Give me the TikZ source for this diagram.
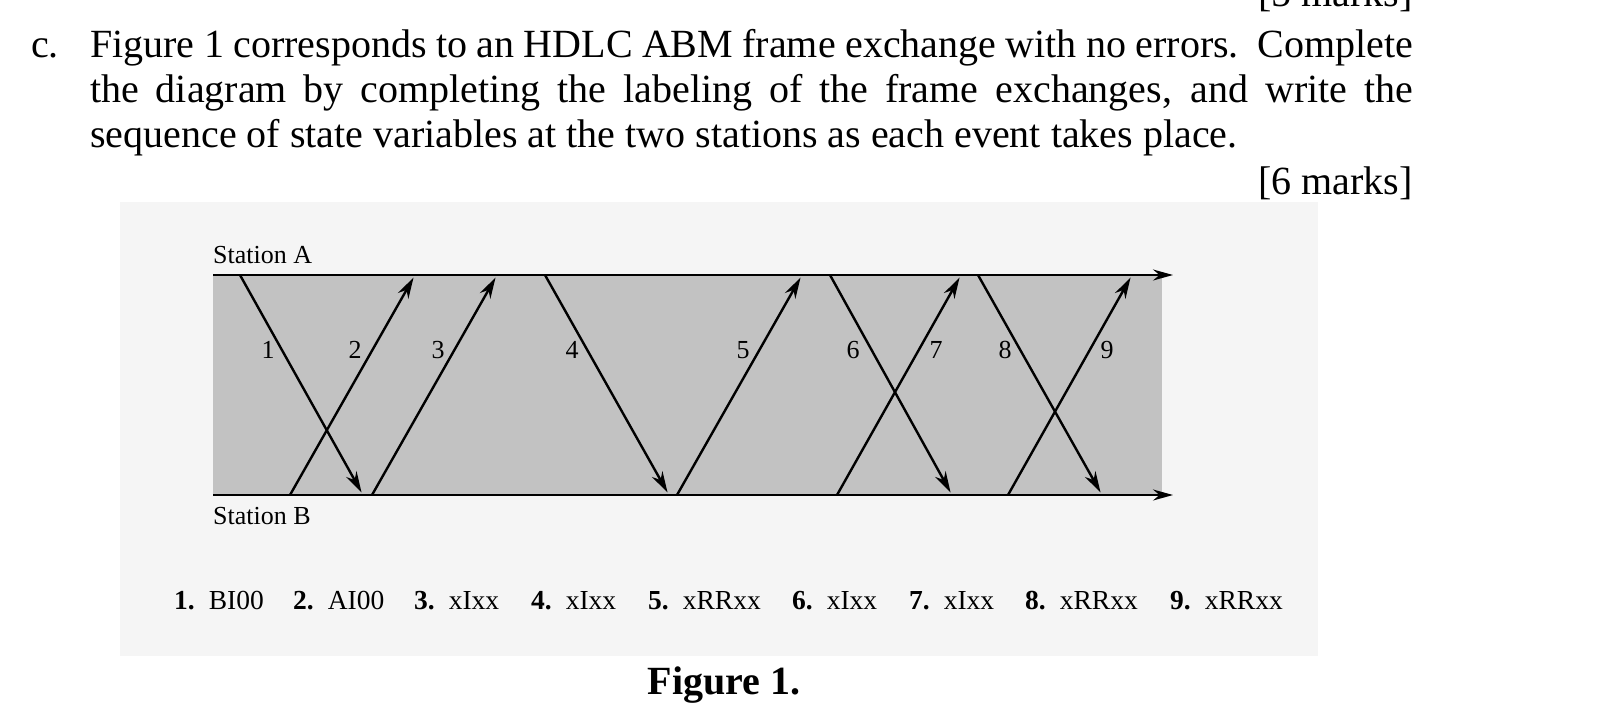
\documentclass[tikz,border=0pt]{standalone}
\usepackage{fontspec}
\setmainfont{Liberation Serif}
\usetikzlibrary{arrows.meta}

\begin{document}
\begin{tikzpicture}[x=1pt,y=-1pt,
  frame/.style={line width=2.4pt, -{Stealth[length=21pt,width=12pt]}, shorten >=3pt},
  station/.style={line width=2pt, -{Stealth[length=20pt,width=11pt]}},
  lbl/.style={inner sep=0pt, font=\fontsize{26}{30}\selectfont},
  item/.style={inner sep=0pt, anchor=base west, font=\fontsize{27.5}{30}\selectfont},
  body/.style={inner sep=0pt, anchor=base west, font=\fontsize{40}{46}\selectfont}]
\useasboundingbox [fill=white] (0,0) rectangle (1602,718);

% question
\node [body, anchor=base east] (mk5) at (1413,6) {[5 marks]};
\node [body] (qc) at (31,57) {c.};
\node [body] (q1) at (90,57) {\makebox[1323pt][s]{Figure 1 corresponds to an HDLC ABM frame exchange with no errors.\ \ Complete}};
\node [body] (q2) at (90,102) {\makebox[1323pt][s]{the diagram by completing the labeling of the frame exchanges, and write the}};
\node [body] (q3) at (90,147) {sequence of state variables at the two stations as each event takes place.};
\node [body, anchor=base east] (mk6) at (1413,194) {[6 marks]};

% scanned figure
\fill [black!4] (120,202) rectangle (1318,656);
\fill [black!24] (213,275) rectangle (1162,495);

\coordinate (sa) at (213,275);
\coordinate (sb) at (213,495);
\coordinate (ea) at (1173,275);
\coordinate (eb) at (1173,495);
\draw [station] (sa) -- (ea);
\draw [station] (sb) -- (eb);
\node [lbl, anchor=base west] (stA) at (213,263) {Station A};
\node [lbl, anchor=base west] (stB) at (213,524) {Station B};

% frames: A = top end, B = bottom end
\coordinate (a1) at (240,275);  \coordinate (b1) at (363,495);
\coordinate (b2) at (290,495);  \coordinate (a2) at (415,275);
\coordinate (b3) at (372,495);  \coordinate (a3) at (497,275);
\coordinate (a4) at (545,275);  \coordinate (b4) at (669,495);
\coordinate (b5) at (677,495);  \coordinate (a5) at (802,275);
\coordinate (a6) at (830,275);  \coordinate (b6) at (952,495);
\coordinate (b7) at (837,495);  \coordinate (a7) at (961,275);
\coordinate (a8) at (978,275);  \coordinate (b8) at (1102,495);
\coordinate (b9) at (1008,495); \coordinate (a9) at (1132,275);

\draw [frame] (a1) -- (b1);
\draw [frame] (b2) -- (a2);
\draw [frame] (b3) -- (a3);
\draw [frame] (a4) -- (b4);
\draw [frame] (b5) -- (a5);
\draw [frame] (a6) -- (b6);
\draw [frame] (b7) -- (a7);
\draw [frame] (a8) -- (b8);
\draw [frame] (b9) -- (a9);

\node [lbl] (n1) at (268,350) {1};
\node [lbl] (n2) at (355,350) {2};
\node [lbl] (n3) at (438,350) {3};
\node [lbl] (n4) at (572,350) {4};
\node [lbl] (n5) at (743,350) {5};
\node [lbl] (n6) at (853,350) {6};
\node [lbl] (n7) at (936,350) {7};
\node [lbl] (n8) at (1005,350) {8};
\node [lbl] (n9) at (1107,350) {9};

% frame types
\node [item] (t1) at (174,609) {\textbf{1.}\hspace{14pt}BI00};
\node [item] (t2) at (293,609) {\textbf{2.}\hspace{14pt}AI00};
\node [item] (t3) at (414,609) {\textbf{3.}\hspace{14pt}xIxx};
\node [item] (t4) at (531,609) {\textbf{4.}\hspace{14pt}xIxx};
\node [item] (t5) at (648,609) {\textbf{5.}\hspace{14pt}xRRxx};
\node [item] (t6) at (792,609) {\textbf{6.}\hspace{14pt}xIxx};
\node [item] (t7) at (909,609) {\textbf{7.}\hspace{14pt}xIxx};
\node [item] (t8) at (1025,609) {\textbf{8.}\hspace{14pt}xRRxx};
\node [item] (t9) at (1170,609) {\textbf{9.}\hspace{14pt}xRRxx};

\node [body, anchor=base, font=\fontsize{40}{46}\selectfont\bfseries] (cap) at (724,694) {Figure 1.};
\end{tikzpicture}
\end{document}
